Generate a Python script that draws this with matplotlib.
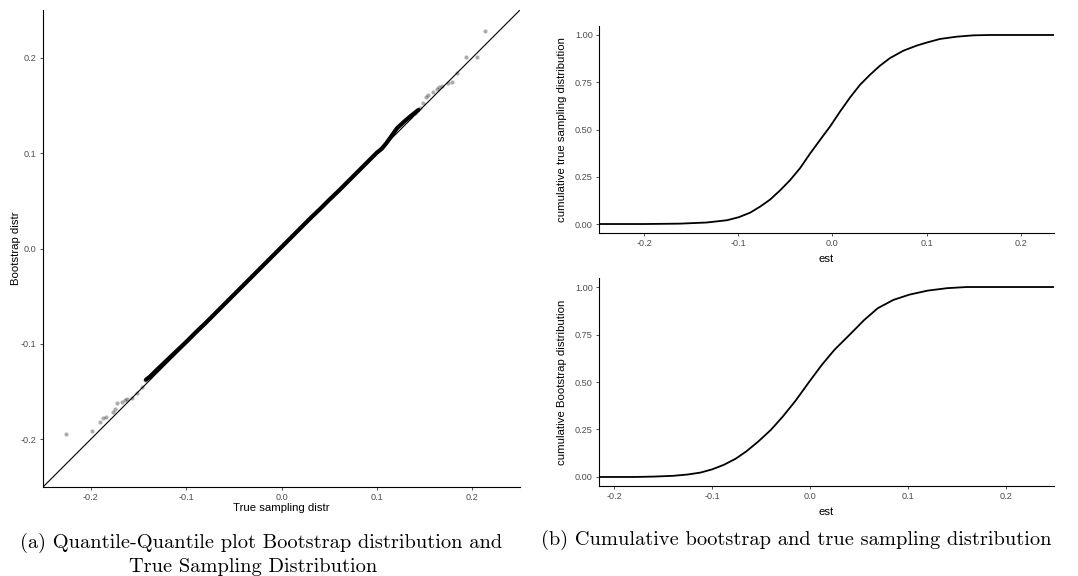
import matplotlib
matplotlib.use('Agg')
import matplotlib.pyplot as plt

plt.rcParams['font.family'] = ['Liberation Sans', 'DejaVu Sans']
plt.rcParams['axes.unicode_minus'] = False

# ---- QQ plot data (true sampling quantile, bootstrap quantile) ----
qq_low_true = [-0.2259, -0.1990, -0.1902, -0.1868, -0.1840, -0.1763, -0.1745, -0.1721,
               -0.1675, -0.1640, -0.1616, -0.1570, -0.1518, -0.1465, -0.1431, -0.1378]
qq_low_boot = [-0.1944, -0.1916, -0.1816, -0.1777, -0.1766, -0.1711, -0.1682, -0.1623,
               -0.1606, -0.1591, -0.1581, -0.1570, -0.1518, -0.1449, -0.1378, -0.1344]
qq_body_true = [-0.142, -0.138, -0.13, -0.12, -0.11, -0.10, -0.09, -0.08, -0.07, -0.06, -0.05,
                -0.04, -0.03, -0.02, -0.01, 0.00, 0.01, 0.02, 0.03, 0.04, 0.05,
                0.06, 0.07, 0.08, 0.09, 0.10, 0.105, 0.110, 0.115, 0.121, 0.128,
                0.135, 0.1434]
qq_body_boot = [-0.1375, -0.1344, -0.1265, -0.1170, -0.1075, -0.0980, -0.0880, -0.0785, -0.0685,
                -0.0585, -0.0485, -0.0385, -0.0285, -0.0185, -0.0085, 0.0015, 0.0115,
                0.0215, 0.0315, 0.0410, 0.0510, 0.0605, 0.0705, 0.0805, 0.0905,
                0.1005, 0.1045, 0.1105, 0.1175, 0.1260, 0.1325, 0.1385, 0.1452]
qq_up_true = [0.2133, 0.1934, 0.2052, 0.1843, 0.1784, 0.1748, 0.1679, 0.1654, 0.1627,
              0.1591, 0.1533, 0.1515, 0.1486, 0.1452, 0.1399, 0.1347]
qq_up_boot = [0.2280, 0.2011, 0.2011, 0.1843, 0.1748, 0.1732, 0.1703, 0.1690, 0.1669,
              0.1644, 0.1609, 0.1585, 0.1522, 0.1470, 0.1418, 0.1382]

# ---- ECDF data ----
ecdf_true_x = [-0.2479, -0.20, -0.162, -0.1335, -0.112, -0.0995, -0.0874, -0.0768, -0.066,
               -0.0556, -0.045, -0.0343, -0.0237, -0.0131, -0.0025, 0.0081, 0.0188, 0.0294,
               0.040, 0.0506, 0.0612, 0.0754, 0.0896, 0.1002, 0.1143, 0.132, 0.1494,
               0.167, 0.2353]
ecdf_true_y = [0.0, 0.0, 0.002, 0.008, 0.020, 0.036, 0.060, 0.092, 0.130,
               0.178, 0.232, 0.296, 0.373, 0.445, 0.516, 0.595, 0.670, 0.737,
               0.790, 0.838, 0.878, 0.917, 0.944, 0.960, 0.979, 0.991, 0.998,
               1.0, 1.0]
ecdf_boot_x = [-0.2155, -0.18, -0.16, -0.14, -0.125, -0.112, -0.10, -0.088, -0.076, -0.065,
               -0.053, -0.040, -0.028, -0.015, -0.001, 0.012, 0.025, 0.042, 0.055, 0.069,
               0.085, 0.1015, 0.120, 0.140, 0.160, 0.2491]
ecdf_boot_y = [0.0, 0.0, 0.002, 0.006, 0.013, 0.023, 0.040, 0.064, 0.096, 0.135,
               0.186, 0.248, 0.317, 0.400, 0.500, 0.590, 0.670, 0.757, 0.825, 0.888,
               0.932, 0.960, 0.981, 0.994, 1.0, 1.0]

W, H = 1078, 576
fig = plt.figure(figsize=(W / 100, H / 100), dpi=100)


def px_axes(l, t, r, b):
    return fig.add_axes([l / W, 1 - b / H, (r - l) / W, (b - t) / H])


def classic(ax):
    for s in ['top', 'right']:
        ax.spines[s].set_visible(False)
    for s in ['left', 'bottom']:
        ax.spines[s].set_linewidth(0.8)
    ax.tick_params(length=2.5, width=0.6, color='#333333', labelcolor='#4D4D4D',
                   labelsize=6.6, pad=2)


ticks = [-0.2, -0.1, 0.0, 0.1, 0.2]
tick_labels = ['-0.2', '-0.1', '0.0', '0.1', '0.2']

# left: QQ plot
ax1 = px_axes(43, 10, 520, 487)
classic(ax1)
ax1.scatter(qq_low_true, qq_low_boot, s=9, color='black', alpha=0.33, linewidths=0)
ax1.scatter(qq_up_true, qq_up_boot, s=9, color='black', alpha=0.33, linewidths=0)
ax1.plot(qq_body_true, qq_body_boot, color='black', lw=3.0, solid_capstyle='round')
ax1.axline((0, 0), slope=1, color='black', lw=0.8)
ax1.set_xlim(-0.25, 0.25)
ax1.set_ylim(-0.25, 0.25)
ax1.set_xticks(ticks)
ax1.set_xticklabels(tick_labels)
ax1.set_yticks(ticks)
ax1.set_yticklabels(tick_labels)
ax1.set_xlabel('True sampling distr', fontsize=8.2, labelpad=0.5)
ax1.set_ylabel('Bootstrap distr', fontsize=8.2, labelpad=0)

yt = [0.0, 0.25, 0.5, 0.75, 1.0]
ytl = ['0.00', '0.25', '0.50', '0.75', '1.00']

# top right: true sampling ECDF
ax2 = px_axes(599, 26, 1054, 233)
classic(ax2)
ax2.plot(ecdf_true_x, ecdf_true_y, color='black', lw=1.3)
ax2.set_xlim(-0.2479, 0.2353)
ax2.set_ylim(-0.0475, 1.0475)
ax2.set_xticks(ticks)
ax2.set_xticklabels(tick_labels)
ax2.set_yticks(yt)
ax2.set_yticklabels(ytl)
ax2.set_xlabel('est', fontsize=8.2, labelpad=4)
ax2.set_ylabel('cumulative true sampling distribution', fontsize=8.2, labelpad=6)

# bottom right: bootstrap ECDF
ax3 = px_axes(599, 278, 1054, 486)
classic(ax3)
ax3.plot(ecdf_boot_x, ecdf_boot_y, color='black', lw=1.3)
ax3.set_xlim(-0.2155, 0.2491)
ax3.set_ylim(-0.0475, 1.0475)
ax3.set_xticks(ticks)
ax3.set_xticklabels(tick_labels)
ax3.set_yticks(yt)
ax3.set_yticklabels(ytl)
ax3.set_xlabel('est', fontsize=8.2, labelpad=4)
ax3.set_ylabel('cumulative Bootstrap distribution', fontsize=8.2, labelpad=6)

# captions
cap = dict(ha='center', va='center', family='cmr10', fontsize=14.7)
fig.text(261 / W, 1 - 543 / H, '(a) Quantile-Quantile plot Bootstrap distribution and', **cap)
fig.text(253 / W, 1 - 567 / H, 'True Sampling Distribution', **cap)
fig.text(796 / W, 1 - 540 / H, '(b) Cumulative bootstrap and true sampling distribution', **cap)

fig.savefig('out.png', dpi=100)
